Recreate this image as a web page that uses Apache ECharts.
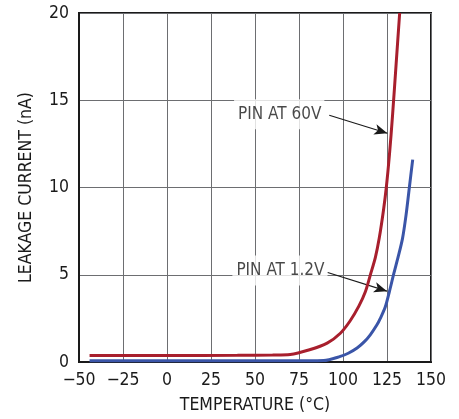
<!DOCTYPE html>
<html>
<head>
<meta charset="utf-8">
<style>
  html, body { margin: 0; padding: 0; background: #fff; }
  #chart { width: 459px; height: 419px; }
</style>
<script src="https://cdn.jsdelivr.net/npm/echarts@6/dist/echarts.min.js"></script>
</head>
<body>
<div id="chart"></div>
<script>
// Leakage current vs. temperature for two pin voltages
const xTicks = [-50, -25, 0, 25, 50, 75, 100, 125, 150];
const yTicks = [0, 5, 10, 15, 20];

const tempPin60 = [-44, 0, 40, 60, 70, 81, 91, 98.5, 104, 109, 112.7, 115.5, 118.4, 120.6, 123, 124.6, 126.4, 128.2, 130.2, 132.2];
const leakPin60 = [0.37, 0.37, 0.38, 0.4, 0.43, 0.7, 1.08, 1.65, 2.35, 3.2, 4.03, 4.98, 6.0, 7.1, 8.7, 10, 11.9, 14.2, 17.1, 20];

const tempPin12 = [-44, 0, 50, 80, 89, 98.5, 103, 108, 112, 115.5, 119.3, 121.2, 124, 126.4, 128.75, 131.4, 133.8, 135.8, 137.7, 139.6];
const leakPin12 = [0.07, 0.07, 0.07, 0.07, 0.08, 0.32, 0.5, 0.8, 1.15, 1.56, 2.13, 2.5, 3.15, 4.05, 5.02, 6.05, 7.07, 8.4, 10, 11.6];

// Callout text anchors (right edge of text) and arrow endpoints, in data units
const calloutText = ['PIN AT 60V', 'PIN AT 1.2V'];
const calloutAnchor = [[89.4, 14.2], [91.2, 5.25]];
const arrowFrom = [[92.2, 14.14], [91.3, 5.13]];
const arrowTo = [[125.2, 13.11], [125.0, 4.06]];

const FONT = "'Liberation Sans Narrow', 'Arial Narrow', 'DejaVu Sans Condensed', sans-serif";
const INK = '#1a1a1a';
const RED = '#a81f2d';
const BLUE = '#3a55a8';

function pairs(xs, ys) { return xs.map((x, i) => [x, ys[i]]); }
function fmtTick(v) { return v < 0 ? '\u2212' + Math.abs(v) : String(v); }

const chart = echarts.init(document.getElementById('chart'), null, { renderer: 'canvas' });

chart.setOption({
  animation: false,
  backgroundColor: '#fff',
  textStyle: { fontFamily: FONT },
  grid: {
    left: 79, right: 28, top: 13, bottom: 55,
    show: true, borderColor: INK, borderWidth: 2, backgroundColor: 'transparent'
  },
  xAxis: {
    type: 'value',
    min: xTicks[0], max: xTicks[xTicks.length - 1], interval: 25,
    name: 'TEMPERATURE (\u00b0C)',
    nameLocation: 'middle', nameGap: 34,
    nameTextStyle: { fontFamily: FONT, fontSize: 17.5, color: INK },
    axisLine: { show: true, onZero: false, lineStyle: { color: INK, width: 2 } },
    axisTick: { show: false },
    axisLabel: { formatter: fmtTick, fontFamily: FONT, fontSize: 17.5, color: INK, margin: 9 },
    splitLine: { show: true, lineStyle: { color: '#6d6e71', width: 1 } }
  },
  yAxis: {
    type: 'value',
    min: yTicks[0], max: yTicks[yTicks.length - 1], interval: 5,
    name: 'LEAKAGE CURRENT (nA)',
    nameLocation: 'middle', nameGap: 44,
    nameTextStyle: { fontFamily: FONT, fontSize: 17.5, color: INK },
    axisLine: { show: true, onZero: false, lineStyle: { color: INK, width: 2 } },
    axisTick: { show: false },
    axisLabel: { fontFamily: FONT, fontSize: 17.5, color: INK, margin: 10 },
    splitLine: { show: true, lineStyle: { color: '#6d6e71', width: 1 } }
  },
  series: [
    {
      name: 'PIN AT 60V',
      type: 'line',
      data: pairs(tempPin60, leakPin60),
      showSymbol: false,
      smooth: 0.3,
      lineStyle: { color: RED, width: 3 },
      z: 5
    },
    {
      name: 'PIN AT 1.2V',
      type: 'line',
      data: pairs(tempPin12, leakPin12),
      showSymbol: false,
      smooth: 0.3,
      lineStyle: { color: BLUE, width: 3 },
      z: 5
    },
    {
      name: 'callouts',
      type: 'scatter',
      symbolSize: 0,
      silent: true,
      z: 3,
      data: calloutAnchor.map((p, i) => ({ value: p, name: calloutText[i] })),
      label: {
        show: true,
        position: 'left',
        distance: 0,
        formatter: p => p.name,
        fontFamily: FONT,
        fontSize: 17,
        color: INK,
        backgroundColor: '#fff',
        padding: [7, 3, 6, 4]
      },
      markLine: {
        silent: true,
        symbol: ['none', 'arrow'],
        symbolSize: [8, 13],
        label: { show: false },
        lineStyle: { color: INK, width: 1.2, type: 'solid' },
        data: arrowFrom.map((p, i) => [{ coord: p }, { coord: arrowTo[i] }])
      }
    }
  ]
});
</script>
</body>
</html>
